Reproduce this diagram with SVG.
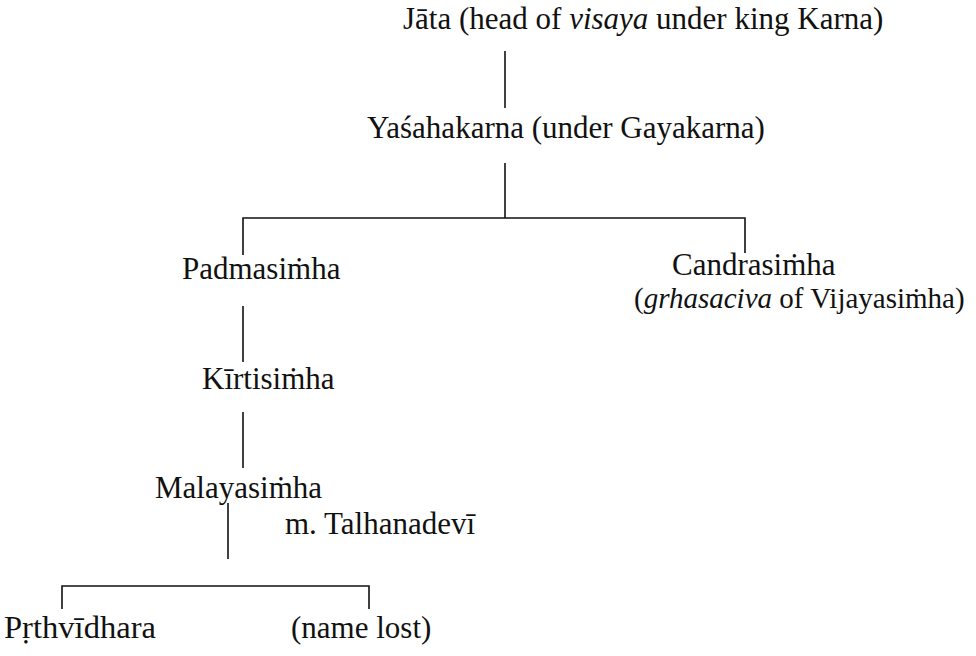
<svg xmlns="http://www.w3.org/2000/svg" width="976" height="656" viewBox="0 0 976 656">
<style>
text{font-family:"Liberation Serif","Times New Roman","DejaVu Serif",serif;font-size:31px;fill:#111}
.it{font-style:italic}
.sm{font-size:29px}
.c{stroke:#111;stroke-width:1.6;fill:none}
</style>
<rect width="976" height="656" fill="#fff"/>
<g id="connectors">
<line class="c" x1="505" y1="51" x2="505" y2="108"/>
<line class="c" x1="505" y1="163" x2="505" y2="218"/>
<polyline class="c" points="243,255 243,218 745,218 745,253"/>
<line class="c" x1="243" y1="306" x2="243" y2="362"/>
<line class="c" x1="243" y1="412" x2="243" y2="468"/>
<line class="c" x1="228" y1="503" x2="228" y2="559"/>
<polyline class="c" points="62,609 62,586 369,586 369,609"/>
</g>
<g id="jata"><text x="403" y="29">Jāta (head of <tspan class="it">visaya</tspan> under king Karna)</text></g>
<g id="yasahakarna"><text x="367" y="138">Yaśahakarna (under Gayakarna)</text></g>
<g id="padmasimha"><text x="182" y="279">Padmasiṁha</text></g>
<g id="candrasimha"><text x="672" y="275">Candrasiṁha</text><text class="sm" x="634" y="308">(<tspan class="it">grhasaciva</tspan> of Vijayasiṁha)</text></g>
<g id="kirtisimha"><text x="202" y="389">Kīrtisiṁha</text></g>
<g id="malayasimha"><text x="155" y="498">Malayasiṁha</text><text x="285" y="534">m. Talhanadevī</text></g>
<g id="prthvidhara"><text x="4" y="638" textLength="152" lengthAdjust="spacingAndGlyphs">Pṛthvīdhara</text></g>
<g id="namelost"><text x="291" y="638">(name lost)</text></g>
</svg>
